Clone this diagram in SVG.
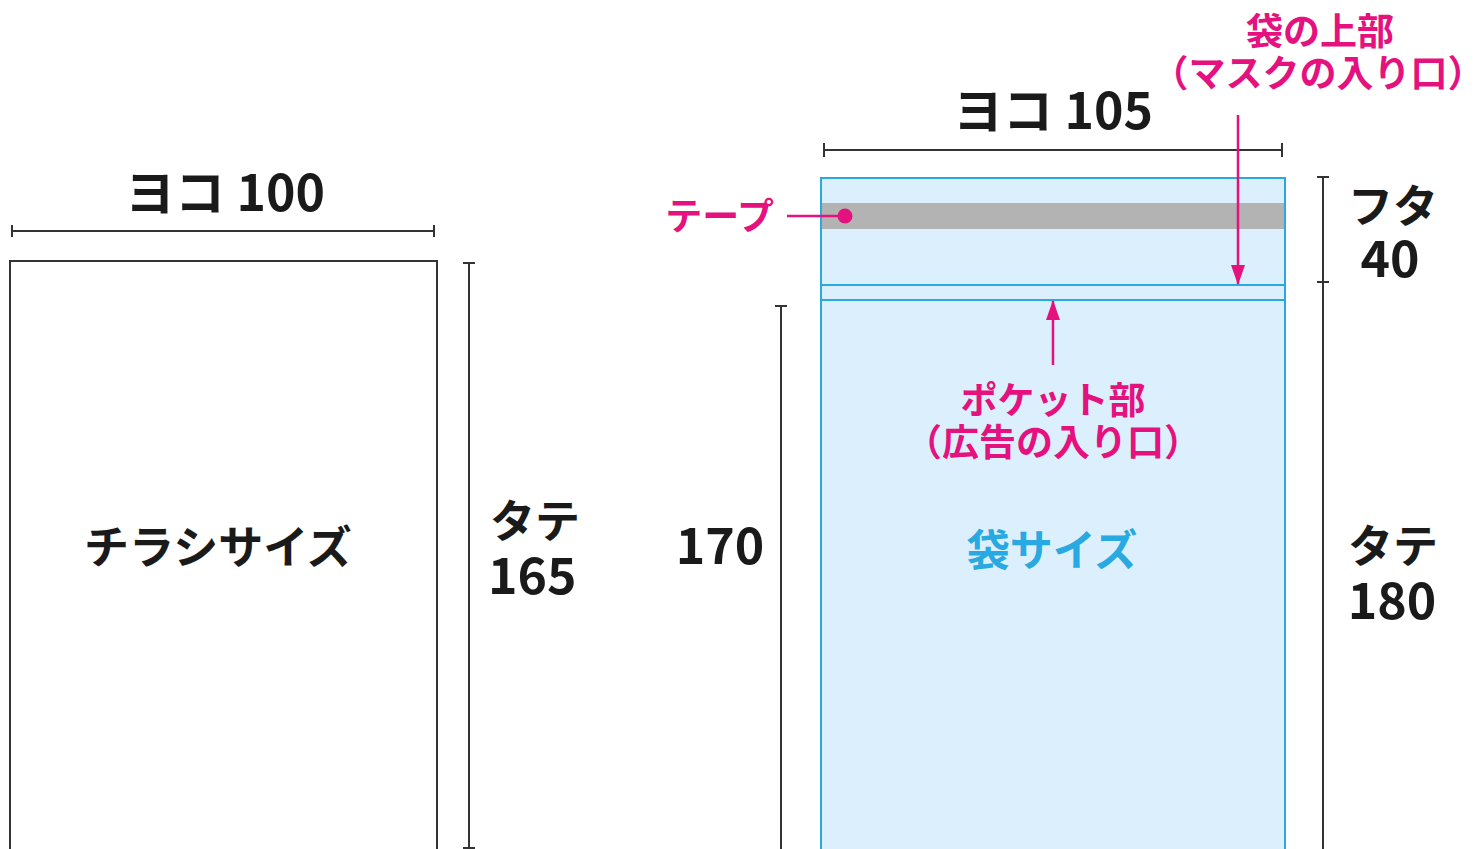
<svg xmlns="http://www.w3.org/2000/svg" width="1479" height="849" viewBox="0 0 1479 849">
<defs>
<style>
.t{font-family:"Noto Sans CJK JP","Noto Sans",sans-serif;font-weight:700;fill:#1a1a1a}
.big{font-size:45px}
.num{font-size:50px}
.pk{font-family:"Noto Sans CJK JP","Noto Sans",sans-serif;font-weight:700;fill:#e4117f;font-size:37px}
.dim{stroke:#333;stroke-width:2;fill:none}
.pl{stroke:#e4117f;stroke-width:2.5;fill:none}
</style>
<marker id="ah" viewBox="0 0 20 14" refX="19" refY="7" markerWidth="20" markerHeight="14" markerUnits="userSpaceOnUse" orient="auto">
<path d="M0,0 L20,7 L0,14 z" fill="#e4117f"/>
</marker>
</defs>
<rect width="1479" height="849" fill="#fff"/>

<g id="flyer">
<rect x="10" y="261" width="427" height="600" fill="#fff" stroke="#333" stroke-width="2"/>
<text class="t big" x="218" y="564" text-anchor="middle">チラシサイズ</text>
</g>

<g id="flyer-width">
<path class="dim" d="M12,231 H434 M12,225 V237 M434,225 V237"/>
<text class="t num" x="225" y="211" text-anchor="middle">ヨコ 100</text>
</g>

<g id="flyer-height">
<path class="dim" d="M469,263 V849 M463,263 H475 M463,848 H475"/>
<text class="t big" x="490" y="538">タテ</text>
<text class="t num" x="488" y="594">165</text>
</g>

<g id="bag">
<rect x="821" y="178" width="464" height="690" fill="#dbf0fc" stroke="#2aa9e0" stroke-width="2"/>
<rect x="822" y="203" width="462" height="26" fill="#b3b3b3"/>
<path d="M821,285 H1285 M821,300 H1285" stroke="#2aa9e0" stroke-width="2"/>
<text x="1052" y="566" text-anchor="middle" font-family="Noto Sans CJK JP,Noto Sans,sans-serif" font-weight="700" font-size="43" fill="#29a9e1">袋サイズ</text>
</g>

<g id="bag-width">
<path class="dim" d="M824,150 H1282 M824,143 V157 M1282,143 V157"/>
<text class="t num" x="1053" y="129" text-anchor="middle">ヨコ 105</text>
</g>

<g id="flap-height">
<path class="dim" d="M1323,177 V849 M1317,177 H1329 M1317,282 H1329"/>
<text class="t big" x="1348" y="223">フタ</text>
<text class="t num" x="1390" y="277" text-anchor="middle">40</text>
<text class="t big" x="1348" y="563">タテ</text>
<text class="t num" x="1392" y="619" text-anchor="middle">180</text>
</g>

<g id="pocket-height">
<path class="dim" d="M781,306 V849 M775,306 H787"/>
<text class="t num" x="720" y="564" text-anchor="middle">170</text>
</g>

<g id="tape-label">
<text class="pk" x="774" y="230" text-anchor="end">テープ</text>
<circle cx="845" cy="216" r="7.5" fill="#e4117f"/>
</g>

<g id="top-label">
<text class="pk" x="1320" y="45" text-anchor="middle">袋の上部</text>
<text class="pk" x="1318" y="87" text-anchor="middle" font-size="36">（マスクの入り口）</text>
</g>

<g id="pocket-label">
<text class="pk" x="1053" y="414" text-anchor="middle">ポケット部</text>
<text class="pk" x="1053" y="456" text-anchor="middle">（広告の入り口）</text>
</g>

<g id="connectors">
<path class="pl" d="M787,216 H845"/>
<path class="pl" d="M1238,115 V284" marker-end="url(#ah)"/>
<path class="pl" d="M1053,365 V301" marker-end="url(#ah)"/>
</g>
</svg>
